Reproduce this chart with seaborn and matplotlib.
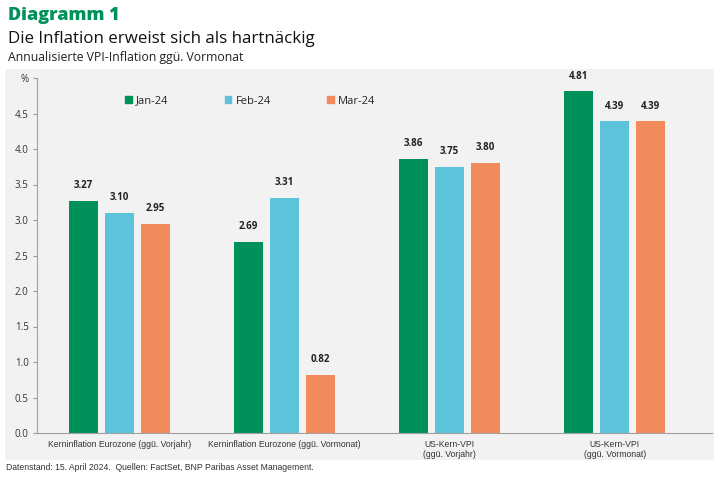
import matplotlib.pyplot as plt
import matplotlib.patches as mpatches
from matplotlib import font_manager
import pandas as pd
import seaborn as sns

categories = ["Kerninflation Eurozone (ggü. Vorjahr)",
              "Kerninflation Eurozone (ggü. Vormonat)",
              "US-Kern-VPI\n(ggü. Vorjahr)",
              "US-Kern-VPI\n(ggü. Vormonat)"]
months = ["Jan-24", "Feb-24", "Mar-24"]
jan = [3.27, 2.69, 3.86, 4.81]
feb = [3.10, 3.31, 3.75, 4.39]
mar = [2.95, 0.82, 3.80, 4.39]
yticks = [0.0, 0.5, 1.0, 1.5, 2.0, 2.5, 3.0, 3.5, 4.0, 4.5, 5.0]
ytick_labels = ["0.0", "0.5", "1.0", "1.5", "2.0", "2.5", "3.0", "3.5", "4.0", "4.5", "%"]

colors = ["#00915A", "#5DC3DA", "#F28A5C"]
bg = "#F2F2F2"

df = pd.DataFrame({
    "Kategorie": categories * 3,
    "Monat": [m for m in months for _ in categories],
    "Wert": jan + feb + mar,
})

sns.set_style("white")
installed = {f.name for f in font_manager.fontManager.ttflist}
if "Liberation Sans Narrow" in installed:
    narrow, small = ["Liberation Sans Narrow", "DejaVu Sans"], 7
else:
    narrow, small = ["Liberation Sans", "DejaVu Sans"], 6.2
plt.rcParams["font.family"] = ["Open Sans", "DejaVu Sans"]

fig = plt.figure(figsize=(7.25, 4.83), dpi=100, facecolor="white")
# grauer Hintergrund hinter dem Diagramm
fig.patches.append(mpatches.Rectangle((5 / 725, 1 - 460 / 483), 709 / 725, 391 / 483,
                                      transform=fig.transFigure, facecolor=bg,
                                      edgecolor="none", zorder=-10))

ax = fig.add_axes([37 / 725, 1 - 433 / 483, 675 / 725, 355 / 483], zorder=1)
ax.patch.set_alpha(0)

sns.barplot(data=df, x="Kategorie", y="Wert", hue="Monat", palette=colors,
            width=0.655, gap=0.2, ax=ax, legend=False, saturation=1, linewidth=0)

for cont in ax.containers:
    ax.bar_label(cont, fmt="%.2f", padding=7, fontsize=7, fontweight="bold",
                 color="#222222")

ax.set_xlim(-0.5, 3.59)
ax.set_ylim(0, 5)
ax.set_yticks(yticks)
ax.set_yticklabels(ytick_labels, fontsize=7, color="#333333")
ax.set_xlabel("")
ax.set_ylabel("")
ax.tick_params(axis="y", length=3, color="#999999", pad=3, left=True)
ax.tick_params(axis="x", length=0, pad=5)
for lab in ax.get_xticklabels():
    lab.set_fontfamily(narrow)
    lab.set_fontsize(small)
    lab.set_color("#333333")
for s in ["top", "right"]:
    ax.spines[s].set_visible(False)
for s in ["left", "bottom"]:
    ax.spines[s].set_color("#A0A0A0")
    ax.spines[s].set_linewidth(0.8)

handles = [mpatches.Patch(color=c, label=m) for c, m in zip(colors, months)]
fig.legend(handles=handles, loc="center left", bbox_to_anchor=(115 / 725, 1 - 101 / 483),
           ncol=3, frameon=False, fontsize=8, handlelength=0.6, handleheight=0.6,
           handletextpad=0.4, columnspacing=5.05)

fig.text(8 / 725, 1 - 16 / 483, "Diagramm 1", fontsize=13, fontweight="heavy",
         color="#00915A", va="center")
fig.text(8 / 725, 1 - 39 / 483, "Die Inflation erweist sich als hartnäckig",
         fontsize=12.2, color="#111111", va="center")
fig.text(8 / 725, 1 - 58 / 483, "Annualisierte VPI-Inflation ggü. Vormonat",
         fontsize=8.8, color="#222222", va="center")
fig.text(6 / 725, 1 - 468 / 483,
         "Datenstand: 15. April 2024.  Quellen: FactSet, BNP Paribas Asset Management.",
         fontsize=small, color="#333333", va="center", family=narrow)

fig.savefig("out.png", dpi=100, facecolor="white")
